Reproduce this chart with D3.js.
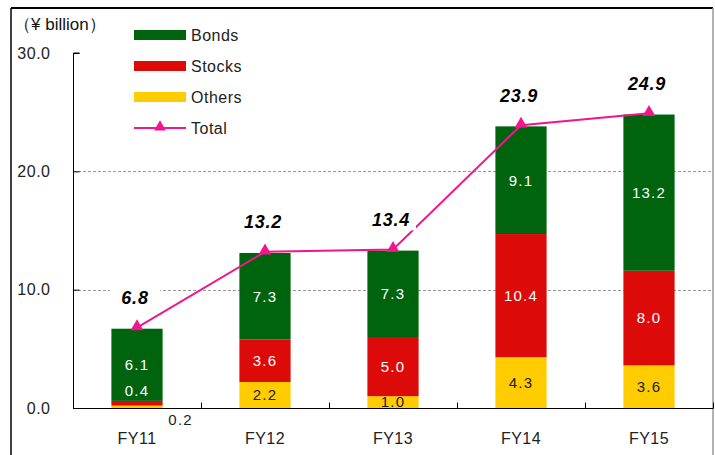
<!DOCTYPE html>
<html>
<head>
<meta charset="utf-8">
<script src="https://cdn.jsdelivr.net/npm/d3@7"></script>
<style>
  body { margin: 0; background: #fff; }
  svg { display: block; font-family: "Liberation Sans", Arial, sans-serif; }
</style>
</head>
<body>
<svg id="chart" width="715" height="455"></svg>
<script>
'use strict';

const years = ['FY11', 'FY12', 'FY13', 'FY14', 'FY15'];
const others = [0.2, 2.2, 1.0, 4.3, 3.6];
const stocks = [0.4, 3.6, 5.0, 10.4, 8.0];
const bonds = [6.1, 7.3, 7.3, 9.1, 13.2];
const totals = [6.8, 13.2, 13.4, 23.9, 24.9];
const yTicks = [0, 10, 20, 30];
const seriesNames = ['Others', 'Stocks', 'Bonds'];

const colors = {Bonds: '#00640f', Stocks: '#dd0a0a', Others: '#ffcc00', Total: '#f0168c'};

const svg = d3.select('#chart');
const margin = {left: 73, right: 2, top: 53, bottom: 47};
const width = 715, height = 455;

const x = d3.scaleBand()
    .domain(years)
    .range([margin.left, width - margin.right])
    .paddingInner(0.6).paddingOuter(0.3);

const xBand = d3.scaleBand().domain(years).range([margin.left, width - margin.right]);

const y = d3.scaleLinear()
    .domain([0, 30])
    .range([height - margin.bottom, margin.top]);

// frame
svg.append('line').attr('x1', 11).attr('x2', 713).attr('y1', 8).attr('y2', 8)
    .attr('stroke', '#000').attr('stroke-width', 2);
svg.append('line').attr('x1', 11).attr('x2', 11).attr('y1', 8).attr('y2', 455)
    .attr('stroke', '#000').attr('stroke-width', 1.5);
svg.append('line').attr('x1', 713).attr('x2', 713).attr('y1', 8).attr('y2', 455)
    .attr('stroke', '#999').attr('stroke-width', 1.5);

// gridlines
svg.append('g')
    .selectAll('line')
    .data(yTicks.filter(d => d > 0 && d < 30))
    .enter().append('line')
    .attr('x1', margin.left).attr('x2', width - margin.right - 1)
    .attr('y1', d => Math.round(y(d)) + 0.5).attr('y2', d => Math.round(y(d)) + 0.5)
    .attr('stroke', '#999').attr('stroke-dasharray', '3,2');

// y axis
const yAxis = svg.append('g')
    .attr('transform', `translate(${margin.left + 0.5},0)`)
    .call(d3.axisLeft(y).tickValues(yTicks).tickSize(-6).tickPadding(0).tickFormat(d3.format('.1f')));
yAxis.select('.domain').attr('d', `M6,${y(30)}H0V${y(0)}`);
yAxis.selectAll('.tick text').attr('x', -23).attr('font-size', 16).attr('letter-spacing', 0.5)
    .attr('fill', '#222').attr('font-family', '"Liberation Sans", Arial, sans-serif');

// x axis
const xAxis = svg.append('g')
    .attr('transform', `translate(0,${Math.round(y(0)) + 0.5})`);
xAxis.append('line').attr('x1', margin.left).attr('x2', width - margin.right).attr('stroke', '#000');
xAxis.selectAll('.sep')
    .data(years.slice(1).concat(['end']))
    .enter().append('line')
    .attr('x1', (d, i) => Math.round(xBand(years[i]) + xBand.bandwidth()) + 0.5)
    .attr('x2', (d, i) => Math.round(xBand(years[i]) + xBand.bandwidth()) + 0.5)
    .attr('y1', 0).attr('y2', -6).attr('stroke', '#000');
xAxis.selectAll('.cat')
    .data(years)
    .enter().append('text')
    .attr('x', d => xBand(d) + xBand.bandwidth() / 2)
    .attr('y', 35)
    .attr('text-anchor', 'middle')
    .attr('font-size', 16).attr('letter-spacing', 0.5).attr('fill', '#222')
    .text(d => d);

// stacked bars
const rows = years.map((yr, i) => ({year: yr, Others: others[i], Stocks: stocks[i], Bonds: bonds[i]}));
const stack = d3.stack().keys(seriesNames)(rows);

const layers = svg.append('g').selectAll('g')
    .data(stack)
    .enter().append('g')
    .attr('fill', d => colors[d.key]);

layers.selectAll('rect')
    .data(d => d)
    .enter().append('rect')
    .attr('x', d => x(d.data.year))
    .attr('width', x.bandwidth())
    .attr('y', d => y(d[1]))
    .attr('height', d => y(d[0]) - y(d[1]));

// segment labels
const segLabels = svg.append('g').attr('font-size', 15).attr('letter-spacing', 1.2).attr('text-anchor', 'middle');
stack.forEach(layer => {
    layer.forEach(d => {
        const v = d.data[layer.key];
        const cx = x(d.data.year) + x.bandwidth() / 2;
        let ty = (y(d[0]) + y(d[1])) / 2;
        let tx = cx;
        let fill = layer.key === 'Others' ? '#222' : '#fff';
        if (v < 1 && layer.key === 'Stocks') {
            ty = y(d[1]) - 10;
        } else if (v < 1 && layer.key === 'Others') {
            tx = x(d.data.year) + x.bandwidth() + 18;
            ty = y(0) + 12;
            fill = '#222';
        }
        segLabels.append('text')
            .attr('x', tx).attr('y', ty)
            .attr('dy', '0.36em')
            .attr('fill', fill)
            .text(d3.format('.1f')(v));
    });
});

// total line
const cxOf = yr => x(yr) + x.bandwidth() / 2;
const line = d3.line().x((d, i) => cxOf(years[i])).y(d => y(d));
svg.append('path')
    .datum(totals)
    .attr('d', line)
    .attr('fill', 'none')
    .attr('stroke', colors.Total)
    .attr('stroke-width', 2);

svg.append('g').selectAll('path')
    .data(totals)
    .enter().append('path')
    .attr('d', d3.symbol(d3.symbolTriangle, 70))
    .attr('transform', (d, i) => `translate(${cxOf(years[i])},${y(d) - 1})`)
    .attr('fill', colors.Total);

// total labels with white boxes
const totLab = svg.append('g').selectAll('g')
    .data(totals)
    .enter().append('g')
    .attr('transform', (d, i) => `translate(${cxOf(years[i]) - 2},${y(d) - 30})`);
totLab.append('rect')
    .attr('x', -25).attr('y', -11).attr('width', 50).attr('height', 22)
    .attr('fill', '#fff');
totLab.append('text')
    .attr('text-anchor', 'middle')
    .attr('dy', '0.36em')
    .attr('font-size', 18).attr('font-weight', 'bold').attr('font-style', 'italic')
    .attr('letter-spacing', 0.8)
    .attr('fill', '#000')
    .text(d => d3.format('.1f')(d));

// unit label
svg.append('text')
    .attr('x', 14).attr('y', 24).attr('dy', '0.36em')
    .attr('font-size', 17).attr('fill', '#111')
    .text('（¥ billion）');

// legend
const legendItems = ['Bonds', 'Stocks', 'Others', 'Total'];
const legend = svg.append('g').selectAll('g')
    .data(legendItems)
    .enter().append('g')
    .attr('transform', (d, i) => `translate(134,${35 + i * 31})`);
legend.filter(d => d !== 'Total').append('rect')
    .attr('x', 0).attr('y', -5).attr('width', 52).attr('height', 10)
    .attr('fill', d => colors[d]);
legend.filter(d => d === 'Total').append('line')
    .attr('x1', 0).attr('x2', 52).attr('stroke', colors.Total).attr('stroke-width', 2);
legend.filter(d => d === 'Total').append('path')
    .attr('d', d3.symbol(d3.symbolTriangle, 60))
    .attr('transform', 'translate(26,-1)')
    .attr('fill', colors.Total);
legend.append('text')
    .attr('x', 57).attr('dy', '0.36em')
    .attr('font-size', 16).attr('letter-spacing', 0.5).attr('fill', '#222')
    .text(d => d);
</script>
</body>
</html>
